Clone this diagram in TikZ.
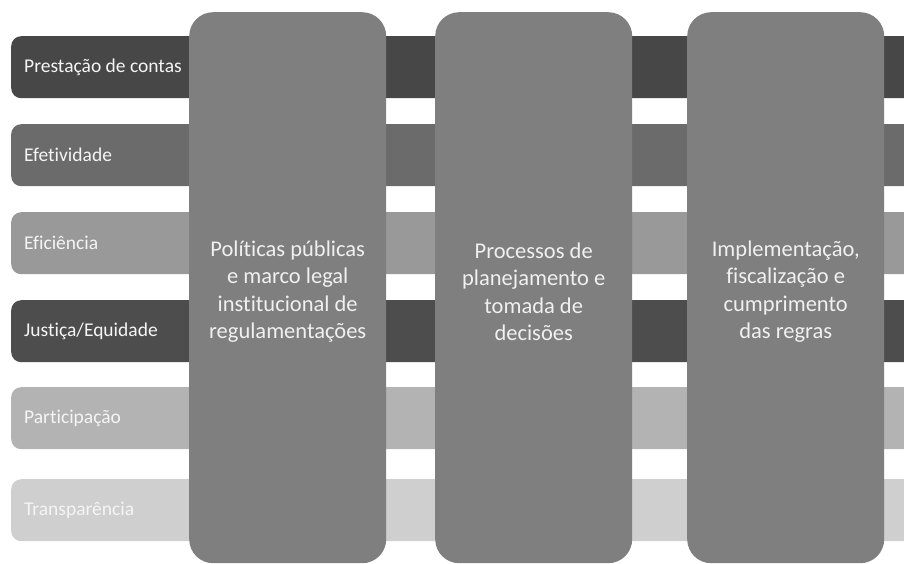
\documentclass[tikz,border=0pt]{standalone}
\usepackage{fontspec}
\setmainfont{Carlito}[Ligatures=NoCommon]
\begin{document}
\begin{tikzpicture}[x=1pt,y=-1pt,
  barbox/.style={draw=none,rounded corners=10pt,minimum height=62pt,minimum width=940pt,
    anchor=north west,inner sep=0pt},
  barlabel/.style={anchor=west,inner sep=0pt,text=white!96!black,font=\fontsize{19.5}{22}\selectfont},
  pillar/.style={draw=none,fill=pilgray,rounded corners=24pt,minimum width=197pt,minimum height=551pt,
    anchor=north west,inner sep=0pt},
  piltext/.style={inner sep=0pt,text=white!94!black,align=center,font=\fontsize{22.5}{27.3}\selectfont}]
\definecolor{pilgray}{HTML}{7F7F7F}
\definecolor{c1}{HTML}{474747}
\definecolor{c2}{HTML}{6B6B6B}
\definecolor{c3}{HTML}{999999}
\definecolor{c4}{HTML}{4D4D4D}
\definecolor{c5}{HTML}{B3B3B3}
\definecolor{c6}{HTML}{CFCFCF}
\useasboundingbox (0,0) rectangle (904,563);
\clip (0,0) rectangle (904,563);
\node[barbox,fill=c1] (b1) at (11,36) {};
\node[barbox,fill=c2] (b2) at (11,124) {};
\node[barbox,fill=c3] (b3) at (11,212) {};
\node[barbox,fill=c4] (b4) at (11,300) {};
\node[barbox,fill=c5] (b5) at (11,387) {};
\node[barbox,fill=c6] (b6) at (11,479) {};
\node[barlabel] (b1t) at ([xshift=13pt]b1.west) {Prestação de contas};
\node[barlabel] (b2t) at ([xshift=13pt]b2.west) {Efetividade};
\node[barlabel] (b3t) at ([xshift=13pt]b3.west) {Eficiência};
\node[barlabel] (b4t) at ([xshift=13pt]b4.west) {Justiça/Equidade};
\node[barlabel] (b5t) at ([xshift=13pt]b5.west) {Participação};
\node[barlabel] (b6t) at ([xshift=13pt]b6.west) {Transparência};
\node[pillar] (p1) at (189,12) {};
\node[pillar] (p2) at (435,12) {};
\node[pillar] (p3) at (687,12) {};
\node[piltext] (p1t) at ([yshift=-4pt]p1.center) {Políticas públicas\\e marco legal\\institucional de\\regulamentações};
\node[piltext] (p2t) at ([yshift=-4pt]p2.center) {Processos de\\planejamento e\\tomada de\\decisões};
\node[piltext] (p3t) at ([yshift=-4pt]p3.center) {Implementação,\\fiscalização e\\cumprimento\\das regras};
\end{tikzpicture}
\end{document}
